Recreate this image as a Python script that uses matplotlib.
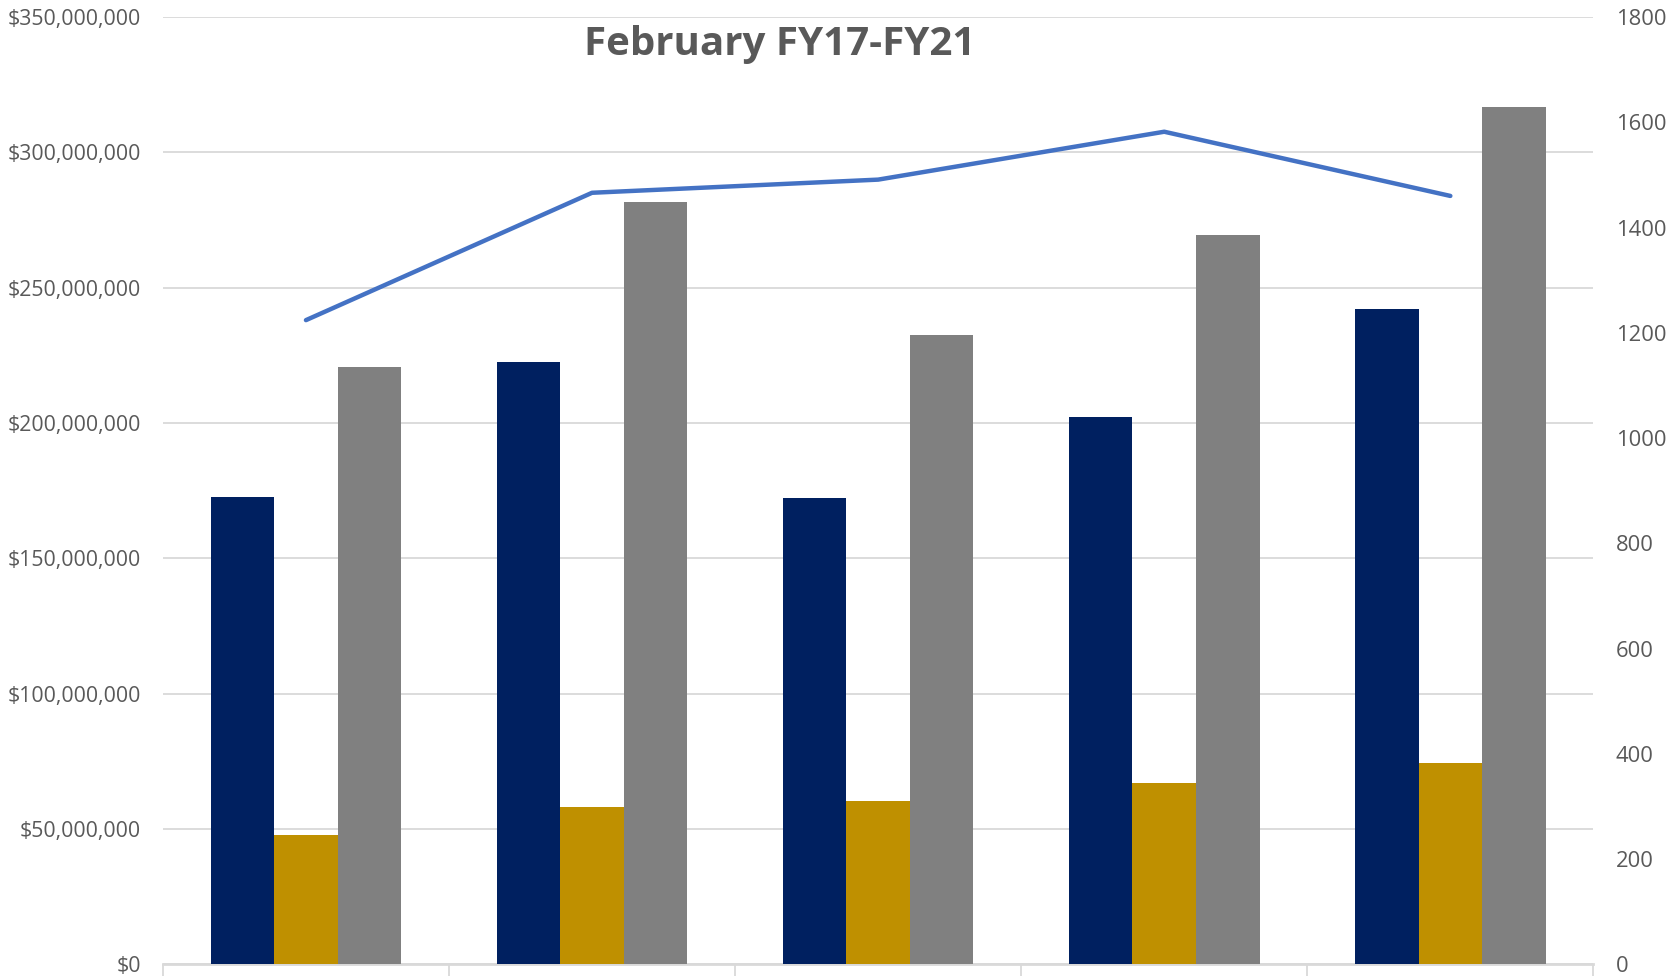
import matplotlib
matplotlib.use("Agg")
import matplotlib.pyplot as plt
import numpy as np
from matplotlib.ticker import FuncFormatter, MultipleLocator

categories = ["FY17", "FY18", "FY19", "FY20", "FY21"]
series_navy = [172.6e6, 222.6e6, 172.2e6, 202.1e6, 242.2e6]
series_gold = [47.6e6, 58.2e6, 60.2e6, 66.9e6, 74.3e6]
series_gray = [220.6e6, 281.6e6, 232.4e6, 269.4e6, 316.6e6]
line_counts = [1224, 1466, 1491, 1582, 1460]
title_text = "February FY17-FY21"

plt.rcParams['font.family'] = ['Open Sans', 'DejaVu Sans']

fig = plt.figure(figsize=(16.69, 9.76), dpi=100)
ax = fig.add_axes([162.9/1669, 1 - 964.3/976, (1593.4-162.9)/1669, (964.3-17.0)/976])
ax2 = ax.twinx()

x = np.arange(len(categories))
w = 0.222
ax.bar(x - w, series_navy, w, color="#002060", zorder=3)
ax.bar(x, series_gold, w, color="#BF9000", zorder=3)
ax.bar(x + w, series_gray, w, color="#808080", zorder=3)

ax.set_xlim(-0.5, len(categories) - 0.5)
ax.set_ylim(0, 350e6)
ax.yaxis.set_major_locator(MultipleLocator(50e6))
ax.yaxis.set_major_formatter(FuncFormatter(lambda v, p: "${:,.0f}".format(v)))
ax.grid(axis='y', color="#d9d9d9", linewidth=1.3, zorder=0)
ax.set_axisbelow(True)

for s in ["top", "left", "right"]:
    ax.spines[s].set_visible(False)
    ax2.spines[s].set_visible(False)
ax2.spines["bottom"].set_visible(False)
ax.spines["bottom"].set_color("#d9d9d9")
ax.spines["bottom"].set_linewidth(2)

ax.set_xticks(np.arange(len(categories) + 1) - 0.5, minor=True)
ax.set_xticks([])
ax.tick_params(axis='x', which='minor', length=12, color="#d9d9d9", width=1.3)
ax.tick_params(axis='y', length=0, pad=16, labelsize=15.3, labelcolor="#595959")

ax2.plot(x, line_counts, color="#4472C4", linewidth=3.2, zorder=4, solid_capstyle='round')
ax2.set_ylim(0, 1800)
ax2.yaxis.set_major_locator(MultipleLocator(200))
ax2.tick_params(axis='y', length=0, pad=16, labelsize=15.8, labelcolor="#595959")

fig.text(780/1669, 1 - 44/976, title_text, ha="center", va="center",
         fontsize=29, fontweight="bold", color="#595959")

fig.savefig("out.png", dpi=100)
